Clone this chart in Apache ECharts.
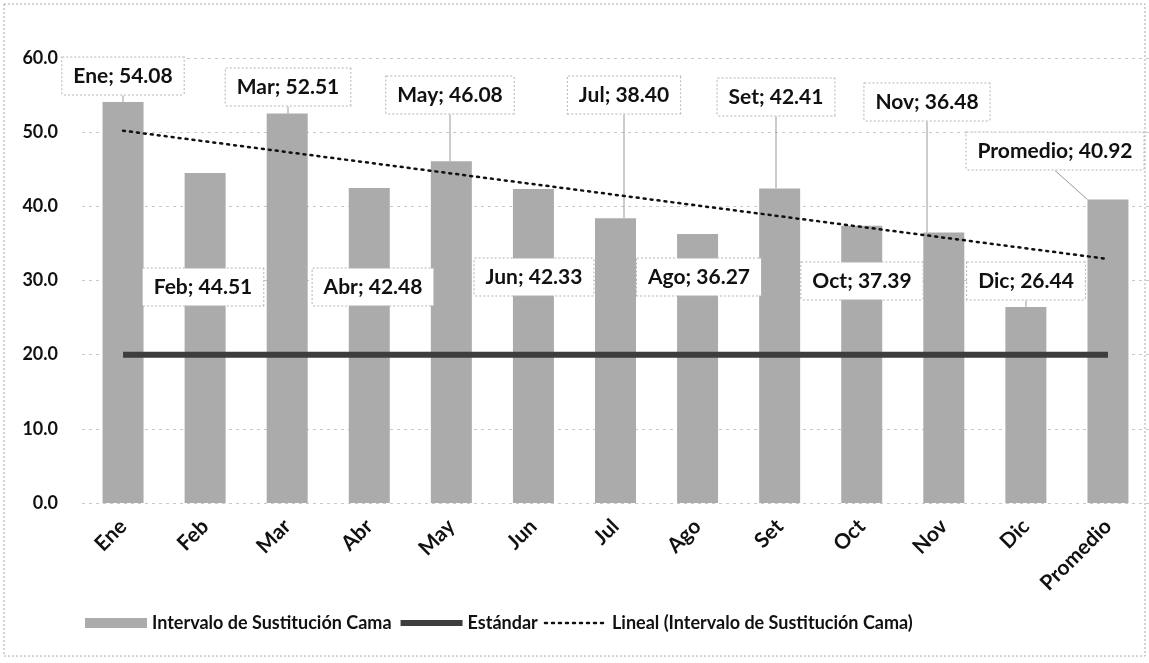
<!DOCTYPE html>
<html>
<head>
<meta charset="utf-8">
<script src="https://cdn.jsdelivr.net/npm/echarts@6/dist/echarts.min.js"></script>
<style>
  html, body { margin: 0; padding: 0; background: #fff; }
  #chart { width: 1149px; height: 663px; }
</style>
</head>
<body>
<div id="chart"></div>
<script>
// months + yearly average
var categories = ['Ene', 'Feb', 'Mar', 'Abr', 'May', 'Jun', 'Jul', 'Ago', 'Set', 'Oct', 'Nov', 'Dic', 'Promedio'];
var intervalo = [54.08, 44.51, 52.51, 42.48, 46.08, 42.33, 38.40, 36.27, 42.41, 37.39, 36.48, 26.44, 40.92];
var estandar = [20, 20, 20, 20, 20, 20, 20, 20, 20, 20, 20, 20, 20];
// trend line, only the two ends
var lineal = [50.2, null, null, null, null, null, null, null, null, null, null, null, 32.9];

// where the callout boxes sit (centre, px)
var calloutPos = [
  [123, 76], [203, 287], [288, 87], [373, 287], [450, 95], [534, 277], [624, 95],
  [699, 277], [776, 97], [862, 281], [927, 102], [1026, 281], [1055, 151]
];

var FONT = 'Lato';
var hidden = 'rgba(0,0,0,0)';
var chart = echarts.init(document.getElementById('chart'));

chart.setOption({
  animation: false,
  textStyle: { fontFamily: FONT },
  graphic: [{
    type: 'rect',
    shape: { x: 4, y: 4, width: 1141, height: 652 },
    style: { fill: 'none', stroke: '#aaa', lineWidth: 1, lineDash: [2, 2] },
    silent: true
  }],
  grid: { left: 82, right: 0, top: 58, bottom: 160 },
  legend: {
    left: 80,
    top: 609,
    itemWidth: 62,
    itemHeight: 10,
    itemGap: 6,
    textStyle: { fontFamily: FONT, fontSize: 18, fontWeight: 'bold', color: '#111' },
    data: [
      { name: 'Intervalo de Sustitución Cama', icon: 'rect' },
      {
        name: 'Estándar',
        lineStyle: { width: 6, color: '#3d3d3d' },
        itemStyle: { color: hidden, borderColor: hidden, borderWidth: 0 }
      },
      {
        name: 'Lineal (Intervalo de Sustitución Cama)',
        lineStyle: { width: 2.5, type: [2, 5], color: '#111' },
        itemStyle: { color: hidden, borderColor: hidden, borderWidth: 0 }
      }
    ]
  },
  xAxis: {
    type: 'category',
    data: categories,
    axisLine: { show: false },
    axisTick: { show: false },
    axisLabel: {
      rotate: 45,
      margin: 20,
      interval: 0,
      fontFamily: FONT,
      fontSize: 21,
      fontWeight: 'bold',
      color: '#111'
    }
  },
  yAxis: {
    type: 'value',
    min: 0,
    max: 60,
    interval: 10,
    axisLine: { show: false },
    axisTick: { show: false },
    axisLabel: {
      margin: 24,
      fontFamily: FONT,
      fontSize: 18,
      fontWeight: 'bold',
      color: '#111',
      formatter: function (v) { return v.toFixed(1); }
    },
    splitLine: { lineStyle: { color: '#c8c8c8', type: [3, 4] } }
  },
  series: [
    {
      name: 'Intervalo de Sustitución Cama',
      type: 'bar',
      data: intervalo,
      barWidth: 41,
      itemStyle: { color: '#ababab' },
      z: 2,
      label: {
        show: true,
        fontFamily: FONT,
        fontSize: 21,
        fontWeight: 'bold',
        color: '#111',
        backgroundColor: '#fff',
        borderColor: '#b5b5b5',
        borderWidth: 1,
        borderType: 'dotted',
        padding: [9, 11, 7, 11],
        formatter: function (p) { return p.name + '; ' + p.value.toFixed(2); }
      },
      labelLine: { show: true, lineStyle: { color: '#999', width: 1 } },
      labelLayout: function (p) {
        var c = calloutPos[p.dataIndex];
        return { x: c[0], y: c[1], align: 'center', verticalAlign: 'middle' };
      }
    },
    {
      name: 'Estándar',
      type: 'line',
      data: estandar,
      symbol: 'none',
      z: 4,
      lineStyle: { color: '#3d3d3d', width: 6 },
      itemStyle: { color: '#3d3d3d' }
    },
    {
      name: 'Lineal (Intervalo de Sustitución Cama)',
      type: 'line',
      data: lineal,
      connectNulls: true,
      symbol: 'none',
      z: 3,
      lineStyle: { color: '#111', width: 2.5, type: [2, 5], cap: 'round' },
      itemStyle: { color: '#111' }
    }
  ]
});
</script>
</body>
</html>
